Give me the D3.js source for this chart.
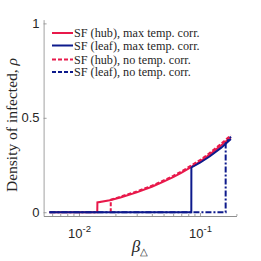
<!DOCTYPE html>
<html>
<head>
<meta charset="utf-8">
<script src="https://cdn.jsdelivr.net/npm/d3@7"></script>
<style>
  body { margin: 0; background: #fff; }
  svg { display: block; }
</style>
</head>
<body>
<div class="chart"></div>
<script>
// values
var legendLabels = [
  "SF (hub), max temp. corr.",
  "SF (leaf), max temp. corr.",
  "SF (hub), no temp. corr.",
  "SF (leaf), no temp. corr."
];

var hubMaxBeta = [0.0057, 0.01416, 0.0142, 0.018, 0.022, 0.03, 0.04, 0.05, 0.06, 0.07, 0.085, 0.1, 0.12, 0.15, 0.18];
var hubMaxRho  = [0, 0, 0.052, 0.063, 0.078, 0.105, 0.135, 0.162, 0.186, 0.208, 0.240, 0.268, 0.305, 0.355, 0.397];

var leafMaxBeta = [0.0057, 0.0848, 0.0849, 0.1, 0.12, 0.15, 0.18];
var leafMaxRho  = [0, 0, 0.238, 0.262, 0.295, 0.342, 0.388];

var hubNoBeta = [0.0183, 0.01831, 0.022, 0.03, 0.04, 0.05, 0.06, 0.07, 0.085, 0.1, 0.12, 0.15, 0.18];
var hubNoRho  = [0, 0.066, 0.082, 0.110, 0.140, 0.168, 0.192, 0.215, 0.248, 0.276, 0.313, 0.363, 0.408];

var leafNoBeta = [0.0057, 0.163, 0.1631, 0.18];
var leafNoRho  = [0, 0, 0.365, 0.400];

var yTicks = [0, 0.5, 1];
var xMajorTicks = [0.01, 0.1];
var xMajorExp = ["-2", "-1"];
var xMinorTicks = [0.006, 0.007, 0.008, 0.009, 0.02, 0.03, 0.04, 0.05, 0.06, 0.07, 0.08, 0.09, 0.2];

var red = "#e8194b";
var blue = "#0d1a8c";

var series = [
  { beta: hubMaxBeta, rho: hubMaxRho, color: red, dash: null },
  { beta: leafMaxBeta, rho: leafMaxRho, color: blue, dash: null },
  { beta: hubNoBeta, rho: hubNoRho, color: red, dash: "4,2" },
  { beta: leafNoBeta, rho: leafNoRho, color: blue, dash: "6,2,2,2" }
];

var svgWidth = 261, svgHeight = 261;

var svg = d3.select(".chart").append("svg")
  .attr("width", svgWidth)
  .attr("height", svgHeight);

var x = d3.scaleLog().domain([0.0051, 0.2]).range([43.6, 236.4]);
var y = d3.scaleLinear().domain([-0.02, 1.02]).range([216, 19.6]);

var axisColor = "#8a8a8a";
var labelColor = "#262626";
var sans = "'Liberation Sans', Arial, sans-serif";
var serif = "'Liberation Serif', 'Times New Roman', serif";

// y axis
var yAxis = svg.append("g")
  .attr("transform", "translate(" + x.range()[0] + ",0)")
  .call(d3.axisLeft(y).tickValues(yTicks).tickFormat(d3.format("")).tickSizeInner(-3).tickSizeOuter(0).tickPadding(4));

// x axis, minor ticks first
svg.append("g")
  .attr("transform", "translate(0," + y.range()[0] + ")")
  .call(d3.axisBottom(x).tickValues(xMinorTicks).tickFormat("").tickSizeInner(-2).tickSizeOuter(0));

var xAxis = svg.append("g")
  .attr("transform", "translate(0," + y.range()[0] + ")")
  .call(d3.axisBottom(x).tickValues(xMajorTicks).tickSizeInner(-3).tickSizeOuter(0));

svg.selectAll(".domain, .tick line").attr("stroke", axisColor).attr("stroke-width", 0.8);

yAxis.selectAll("text")
  .attr("fill", labelColor)
  .style("font-family", sans)
  .style("font-size", "13px");

xAxis.selectAll("text").each(function(d, i) {
  var t = d3.select(this).text("")
    .attr("y", 22)
    .attr("dy", null)
    .attr("fill", labelColor)
    .attr("text-anchor", "middle")
    .style("font-family", sans)
    .style("font-size", "13px");
  t.append("tspan").text("10");
  t.append("tspan").attr("dy", -6).style("font-size", "9.5px").text(xMajorExp[i]);
});

// lines
var line = d3.line()
  .x(d => x(d[0]))
  .y(d => y(d[1]));

series.forEach(function(s) {
  var pts = s.beta.map((b, i) => [b, s.rho[i]]);
  svg.append("path")
    .datum(pts)
    .attr("fill", "none")
    .attr("stroke", s.color)
    .attr("stroke-width", 2)
    .attr("stroke-dasharray", s.dash)
    .attr("d", line);
});

// legend
var legendY = [33, 45.5, 59.5, 72];
var legend = svg.append("g");
legendLabels.forEach(function(lbl, i) {
  var s = series[i];
  legend.append("line")
    .attr("x1", 52).attr("x2", 73)
    .attr("y1", legendY[i]).attr("y2", legendY[i])
    .attr("stroke", s.color)
    .attr("stroke-width", 2)
    .attr("stroke-dasharray", s.dash ? "4,2" : null);
  legend.append("text")
    .attr("x", 74)
    .attr("y", legendY[i] + 4)
    .attr("fill", labelColor)
    .style("font-family", serif)
    .style("font-size", "12.2px")
    .text(lbl);
});

// axis titles
var yt = svg.append("text")
  .attr("transform", "translate(17,125) rotate(-90)")
  .attr("text-anchor", "middle")
  .attr("fill", labelColor)
  .style("font-family", serif)
  .style("font-size", "15.5px");
yt.append("tspan").text("Density of infected, ");
yt.append("tspan").style("font-style", "italic").text("ρ");

var xt = svg.append("text")
  .attr("x", 140)
  .attr("y", 252)
  .attr("text-anchor", "middle")
  .attr("fill", labelColor)
  .style("font-family", serif)
  .style("font-size", "17px");
xt.append("tspan").style("font-style", "italic").text("β");
xt.append("tspan").attr("dy", 3).style("font-size", "10px").text("△");
</script>
</body>
</html>
